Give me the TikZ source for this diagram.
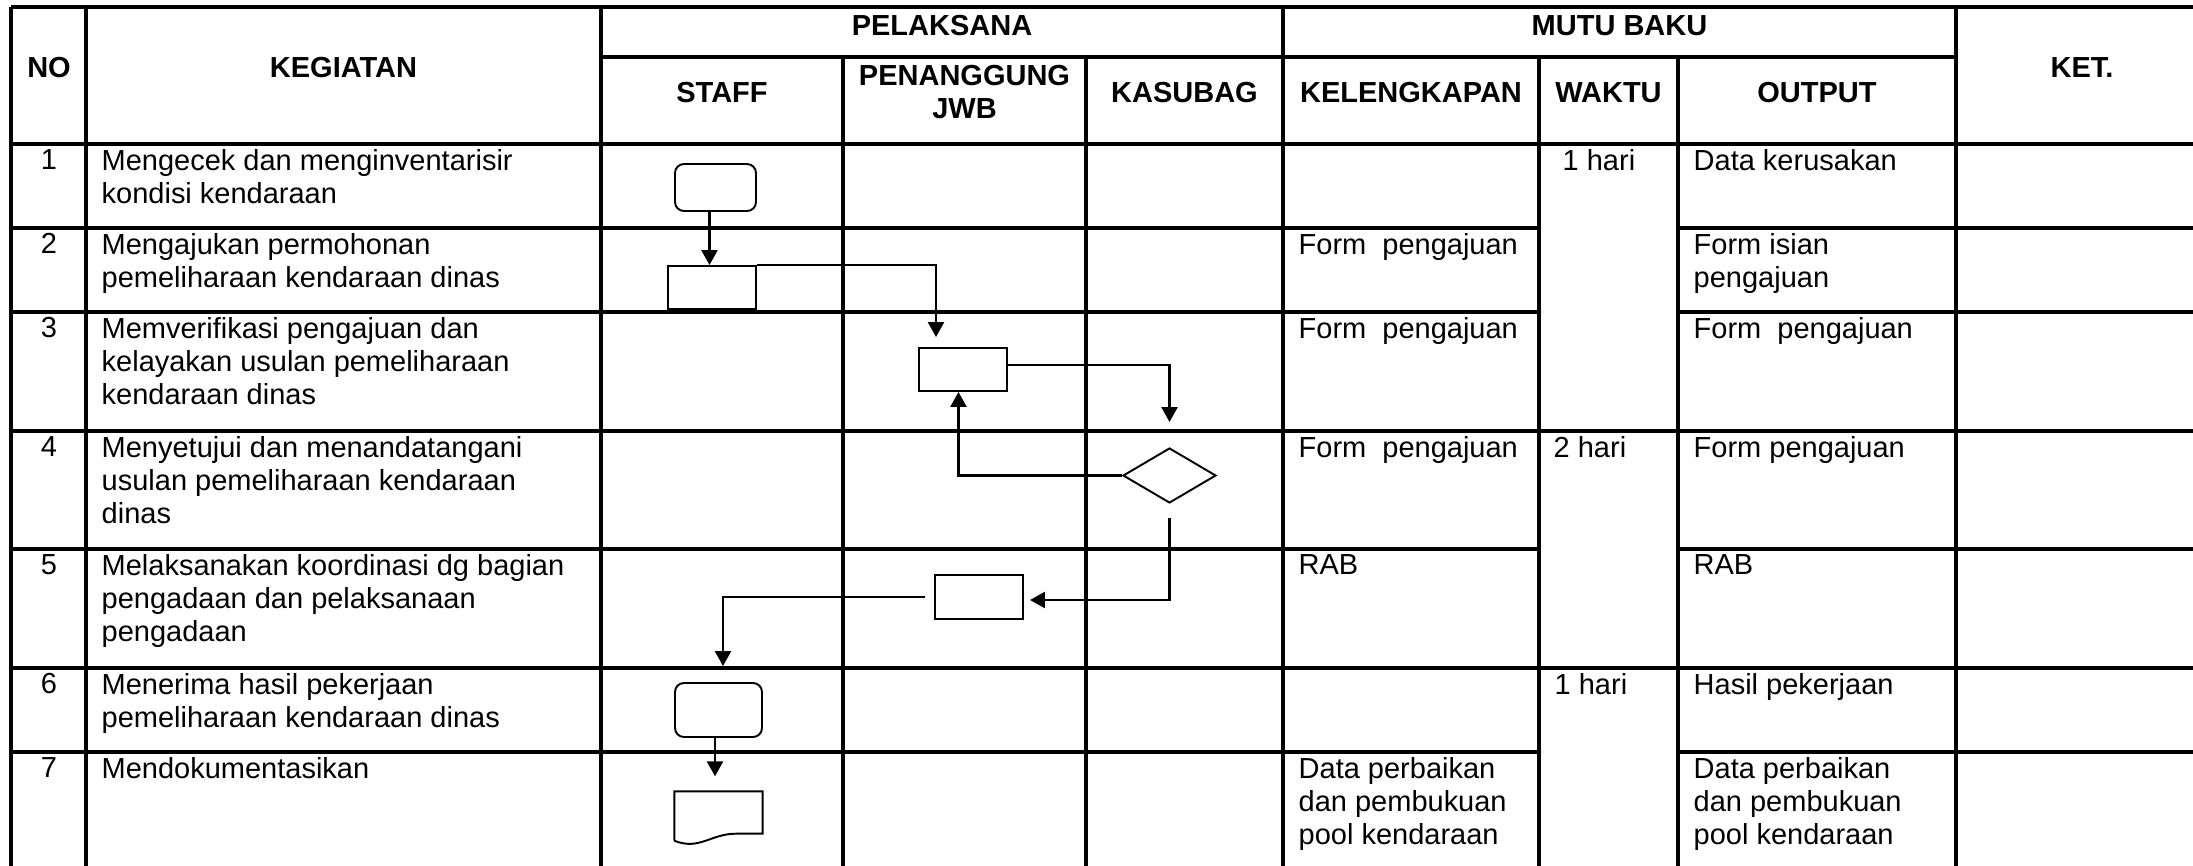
\documentclass[tikz,border=0pt]{standalone}
\usepackage{fontspec}
\setmainfont{Liberation Sans}
\usepackage{tikz}
\usetikzlibrary{shapes.geometric,arrows.meta,positioning}

\begin{document}
\begin{tikzpicture}[
  grid/.style={line width=0.9pt},
  head/.style={font=\fontsize{8.25}{9.4}\selectfont\bfseries, align=center, inner sep=0pt},
  cell/.style={font=\fontsize{8.25}{9.4}\selectfont, align=left, anchor=north west, inner sep=0pt},
  num/.style={font=\fontsize{8.25}{9.4}\selectfont, anchor=north, inner sep=0pt},
  term/.style={draw, line width=0.55pt, rounded corners=0.9mm, inner sep=0pt},
  proc/.style={draw, line width=0.55pt, inner sep=0pt, minimum width=0.88cm, minimum height=0.43cm},
  dec/.style={draw, diamond, line width=0.55pt, inner sep=0pt, minimum width=0.93cm, minimum height=0.55cm},
  arr/.style={-{Triangle[length=1.5mm,width=1.6mm]}, line width=0.7pt}
]
  \clip (0,0) rectangle (21.93,-8.66);

  \draw[grid] (0.11,-0.07) -- (22.5,-0.07);
  \draw[grid] (6.01,-0.57) -- (19.56,-0.57);
  \draw[grid] (0.11,-1.44) -- (22.5,-1.44);
  \draw[grid] (0.11,-2.28) -- (15.39,-2.28) (16.78,-2.28) -- (22.5,-2.28);
  \draw[grid] (0.11,-3.12) -- (15.39,-3.12) (16.78,-3.12) -- (22.5,-3.12);
  \draw[grid] (0.11,-4.31) -- (22.5,-4.31);
  \draw[grid] (0.11,-5.49) -- (15.39,-5.49) (16.78,-5.49) -- (22.5,-5.49);
  \draw[grid] (0.11,-6.68) -- (22.5,-6.68);
  \draw[grid] (0.11,-7.52) -- (15.39,-7.52) (16.78,-7.52) -- (22.5,-7.52);
  \draw[grid] (0.11,-0.07) -- (0.11,-9);
  \draw[grid] (0.86,-0.07) -- (0.86,-9);
  \draw[grid] (6.01,-0.07) -- (6.01,-9);
  \draw[grid] (8.43,-0.57) -- (8.43,-9);
  \draw[grid] (10.86,-0.57) -- (10.86,-9);
  \draw[grid] (12.83,-0.07) -- (12.83,-9);
  \draw[grid] (15.39,-0.57) -- (15.39,-9);
  \draw[grid] (16.78,-0.57) -- (16.78,-9);
  \draw[grid] (19.56,-0.07) -- (19.56,-9);

  \node[head] (hno)      at (0.49,-0.68)   {NO};
  \node[head] (hkeg)     at (3.435,-0.68)  {KEGIATAN};
  \node[head] (hpel)     at (9.42,-0.26)   {PELAKSANA};
  \node[head] (hmutu)    at (16.195,-0.26) {MUTU BAKU};
  \node[head] (hstaff)   at (7.22,-0.93)   {STAFF};
  \node[head] (hpj)      at (9.645,-0.92)  {PENANGGUNG\\JWB};
  \node[head] (hkasubag) at (11.845,-0.93) {KASUBAG};
  \node[head] (hkel)     at (14.11,-0.93)  {KELENGKAPAN};
  \node[head] (hwaktu)   at (16.085,-0.93) {WAKTU};
  \node[head] (houtput)  at (18.17,-0.93)  {OUTPUT};
  \node[head] (hket)     at (20.82,-0.68)  {KET.};

  \node[num]  (n1) at (0.49,-1.49)  {1};
  \node[cell] (k1) at (1.01,-1.49)  {Mengecek dan menginventarisir\\kondisi kendaraan};
  \node[cell] (w1) at (15.62,-1.49) {1 hari};
  \node[cell] (o1) at (16.93,-1.49) {Data kerusakan};

  \node[num]  (n2) at (0.49,-2.33)  {2};
  \node[cell] (k2) at (1.01,-2.33)  {Mengajukan permohonan\\pemeliharaan kendaraan dinas};
  \node[cell] (l2) at (12.98,-2.33) {Form\ \ pengajuan};
  \node[cell] (o2) at (16.93,-2.33) {Form isian\\pengajuan};

  \node[num]  (n3) at (0.49,-3.17)  {3};
  \node[cell] (k3) at (1.01,-3.17)  {Memverifikasi pengajuan dan\\kelayakan usulan pemeliharaan\\kendaraan dinas};
  \node[cell] (l3) at (12.98,-3.17) {Form\ \ pengajuan};
  \node[cell] (o3) at (16.93,-3.17) {Form\ \ pengajuan};

  \node[num]  (n4) at (0.49,-4.36)  {4};
  \node[cell] (k4) at (1.01,-4.36)  {Menyetujui dan menandatangani\\usulan pemeliharaan kendaraan\\dinas};
  \node[cell] (l4) at (12.98,-4.36) {Form\ \ pengajuan};
  \node[cell] (w4) at (15.53,-4.36) {2 hari};
  \node[cell] (o4) at (16.93,-4.36) {Form pengajuan};

  \node[num]  (n5) at (0.49,-5.54)  {5};
  \node[cell] (k5) at (1.01,-5.54)  {Melaksanakan koordinasi dg bagian\\pengadaan dan pelaksanaan\\pengadaan};
  \node[cell] (l5) at (12.98,-5.54) {RAB};
  \node[cell] (o5) at (16.93,-5.54) {RAB};

  \node[num]  (n6) at (0.49,-6.73)  {6};
  \node[cell] (k6) at (1.01,-6.73)  {Menerima hasil pekerjaan\\pemeliharaan kendaraan dinas};
  \node[cell] (w6) at (15.54,-6.73) {1 hari};
  \node[cell] (o6) at (16.93,-6.73) {Hasil pekerjaan};

  \node[num]  (n7) at (0.49,-7.57)  {7};
  \node[cell] (k7) at (1.01,-7.57)  {Mendokumentasikan};
  \node[cell] (l7) at (12.98,-7.57) {Data perbaikan\\dan pembukuan\\pool kendaraan};
  \node[cell] (o7) at (16.93,-7.57) {Data perbaikan\\dan pembukuan\\pool kendaraan};

  \node[term, minimum width=0.81cm, minimum height=0.47cm] (term1) at (7.155,-1.875) {};
  \node[proc] (proc2) at (7.12,-2.875) {};
  \node[proc] (proc3) at (9.63,-3.695) {};
  \node[dec]  (dec4)  at (11.695,-4.755) {};
  \node[proc, minimum height=0.44cm] (proc5) at (9.79,-5.97) {};
  \node[term, minimum width=0.87cm, minimum height=0.54cm] (term6) at (7.185,-7.10) {};
  \node[inner sep=0pt, minimum width=0.87cm, minimum height=0.52cm] (doc7) at (7.185,-8.18) {};
  \draw[line width=0.55pt] (doc7.south west) ++(0,0.04) -- (doc7.north west) -- (doc7.north east)
    -- ([yshift=1.1mm]doc7.south east) -- ([xshift=-2.7mm,yshift=1.1mm]doc7.south east)
    .. controls ([xshift=-5.2mm,yshift=1.1mm]doc7.south east) and ([xshift=2.5mm,yshift=-0.6mm]doc7.south west)
    .. ([yshift=0.4mm]doc7.south west);

  \draw[arr] ([xshift=-0.6mm]term1.south) -- ([xshift=-0.6mm]term1.south |- proc2.north);
  \draw[arr] (proc2.north east) -| ([xshift=-2.7mm,yshift=1mm]proc3.north);
  \draw[arr] ([yshift=0.45mm]proc3.east) -| ([yshift=2.5mm]dec4.north);
  \draw[arr] (dec4.west) -| ([xshift=-0.45mm]proc3.south);
  \draw[arr] ([yshift=-1.4mm]dec4.south) |- ([xshift=0.6mm,yshift=-0.3mm]proc5.east);
  \draw[arr] ([xshift=-0.9mm]proc5.west) -| ([xshift=0.45mm,yshift=1.6mm]term6.north);
  \draw[arr] ([xshift=-0.35mm]term6.south) -- ([xshift=-0.35mm,yshift=1.5mm]doc7.north);
\end{tikzpicture}
\end{document}
